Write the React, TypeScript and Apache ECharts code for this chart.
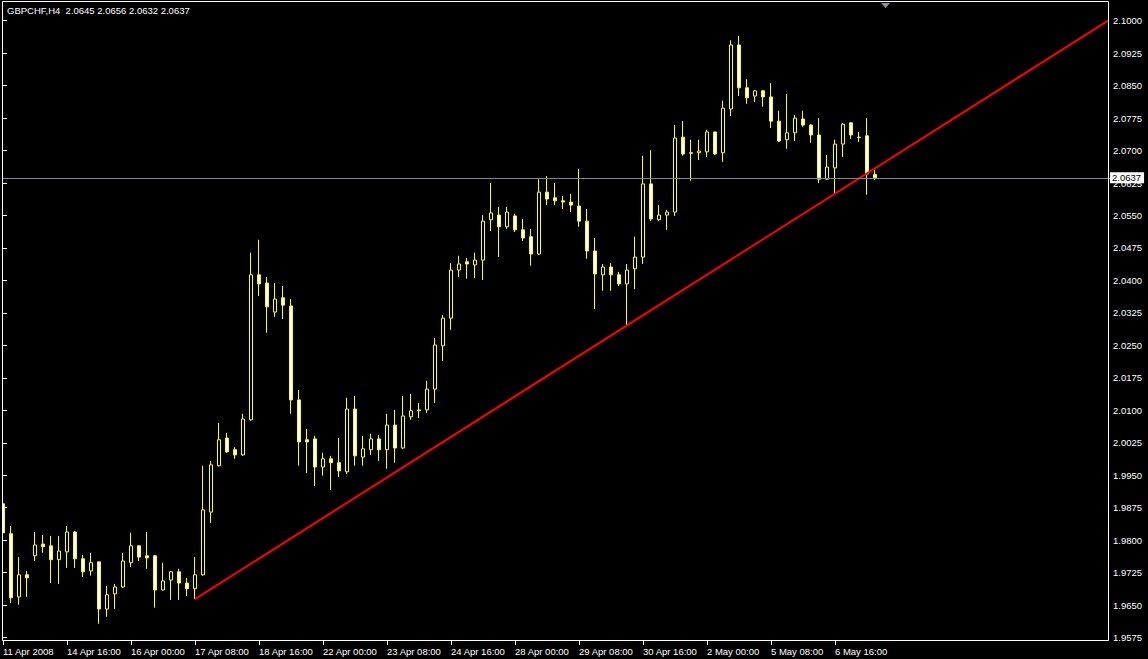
import React, { useEffect, useRef } from "react";
import * as echarts from "echarts";

const symbolTitle = "GBPCHF,H4  2.0645 2.0656 2.0632 2.0637";

// H4 candles, 11 Apr 2008 08:00 onward (index 0..109)
const opens = [
  1.9884, 1.9815, 1.9669, 1.9720, 1.9764, 1.9791, 1.9787, 1.9755, 1.9773, 1.9819,
  1.9757, 1.9729, 1.9750, 1.9641, 1.9676, 1.9692, 1.9748, 1.9787, 1.9764, 1.9764,
  1.9685, 1.9708, 1.9727, 1.9701, 1.9688, 1.9720, 1.9865, 1.9972, 2.0036, 2.0009,
  1.9997, 2.0078, 2.0413, 2.0394, 2.0327, 2.0360, 2.0341, 2.0124, 2.0032, 2.0034,
  1.9969, 1.9988, 1.9979, 1.9958, 2.0103, 1.9992, 2.0009, 2.0034, 2.0009, 2.0066,
  2.0013, 2.0085, 2.0099, 2.0101, 2.0149, 2.0249, 2.0313, 2.0424, 2.0443, 2.0436,
  2.0447, 2.0540, 2.0551, 2.0524, 2.0549, 2.0517, 2.0501, 2.0461, 2.0604, 2.0591,
  2.0584, 2.0581, 2.0572, 2.0537, 2.0468, 2.0413, 2.0431, 2.0413, 2.0392, 2.0427,
  2.0454, 2.0623, 2.0540, 2.0551, 2.0558, 2.0731, 2.0695, 2.0695, 2.0697, 2.0743,
  2.0695, 2.0796, 2.0944, 2.0845, 2.0826, 2.0838, 2.0824, 2.0768, 2.0725, 2.0741,
  2.0773, 2.0759, 2.0736, 2.0634, 2.0660, 2.0715, 2.0764, 2.0731, 2.0734, 2.0645,
];
const closes = [
  1.9817, 1.9667, 1.9720, 1.9713, 1.9789, 1.9785, 1.9755, 1.9775, 1.9819, 1.9757,
  1.9727, 1.9748, 1.9641, 1.9674, 1.9692, 1.9752, 1.9787, 1.9761, 1.9759, 1.9685,
  1.9706, 1.9727, 1.9701, 1.9688, 1.9720, 1.9870, 1.9974, 2.0032, 2.0004, 1.9997,
  2.0080, 2.0413, 2.0392, 2.0339, 2.0357, 2.0343, 2.0124, 2.0027, 2.0027, 1.9969,
  1.9988, 1.9979, 1.9960, 2.0103, 1.9995, 2.0011, 2.0034, 2.0009, 2.0066, 2.0013,
  2.0087, 2.0099, 2.0101, 2.0149, 2.0251, 2.0313, 2.0424, 2.0438, 2.0438, 2.0447,
  2.0537, 2.0556, 2.0524, 2.0558, 2.0517, 2.0498, 2.0461, 2.0604, 2.0588, 2.0584,
  2.0581, 2.0574, 2.0537, 2.0468, 2.0415, 2.0431, 2.0413, 2.0392, 2.0424, 2.0454,
  2.0623, 2.0542, 2.0551, 2.0558, 2.0729, 2.0692, 2.0694, 2.0699, 2.0743, 2.0692,
  2.0798, 2.0944, 2.0845, 2.0822, 2.0838, 2.0824, 2.0768, 2.0722, 2.0741, 2.0775,
  2.0759, 2.0736, 2.0634, 2.0662, 2.0715, 2.0761, 2.0736, 2.0730, 2.0646, 2.0637,
];
const lows = [
  1.9775, 1.9655, 1.9651, 1.9669, 1.9752, 1.9771, 1.9701, 1.9699, 1.9736, 1.9736,
  1.9715, 1.9718, 1.9607, 1.9623, 1.9641, 1.9690, 1.9738, 1.9752, 1.9734, 1.9644,
  1.9684, 1.9662, 1.9662, 1.9671, 1.9664, 1.9718, 1.9840, 1.9970, 2.0002, 1.9988,
  1.9995, 2.0076, 2.0364, 2.0279, 2.0316, 2.0311, 2.0092, 1.9972, 1.9955, 1.9925,
  1.9949, 1.9916, 1.9946, 1.9953, 1.9972, 1.9972, 1.9997, 1.9983, 1.9965, 1.9979,
  2.0011, 2.0078, 2.0082, 2.0094, 2.0117, 2.0214, 2.0286, 2.0408, 2.0404, 2.0406,
  2.0401, 2.0514, 2.0454, 2.0519, 2.0512, 2.0491, 2.0434, 2.0459, 2.0574, 2.0574,
  2.0565, 2.0558, 2.0524, 2.0450, 2.0334, 2.0376, 2.0376, 2.0387, 2.0297, 2.0380,
  2.0438, 2.0537, 2.0537, 2.0517, 2.0549, 2.0688, 2.0630, 2.0678, 2.0685, 2.0690,
  2.0674, 2.0780, 2.0826, 2.0808, 2.0812, 2.0801, 2.0752, 2.0720, 2.0704, 2.0722,
  2.0755, 2.0718, 2.0625, 2.0632, 2.0602, 2.0685, 2.0727, 2.0720, 2.0598, 2.0632,
];
const highs = [
  1.9909, 1.9833, 1.9761, 1.9729, 1.9819, 1.9812, 1.9810, 1.9810, 1.9833, 1.9821,
  1.9766, 1.9771, 1.9750, 1.9694, 1.9699, 1.9771, 1.9817, 1.9789, 1.9819, 1.9766,
  1.9748, 1.9729, 1.9734, 1.9713, 1.9761, 1.9972, 1.9983, 2.0071, 2.0048, 2.0015,
  2.0092, 2.0464, 2.0494, 2.0408, 2.0394, 2.0387, 2.0357, 2.0147, 2.0057, 2.0041,
  2.0002, 1.9995, 2.0036, 2.0129, 2.0133, 2.0041, 2.0046, 2.0043, 2.0092, 2.0101,
  2.0133, 2.0138, 2.0117, 2.0168, 2.0267, 2.0320, 2.0440, 2.0457, 2.0452, 2.0464,
  2.0551, 2.0625, 2.0570, 2.0570, 2.0554, 2.0542, 2.0519, 2.0634, 2.0641, 2.0625,
  2.0595, 2.0600, 2.0658, 2.0565, 2.0498, 2.0438, 2.0440, 2.0420, 2.0438, 2.0501,
  2.0688, 2.0701, 2.0574, 2.0563, 2.0759, 2.0768, 2.0725, 2.0725, 2.0748, 2.0743,
  2.0815, 2.0955, 2.0965, 2.0865, 2.0840, 2.0840, 2.0856, 2.0792, 2.0831, 2.0782,
  2.0792, 2.0761, 2.0775, 2.0690, 2.0725, 2.0764, 2.0766, 2.0743, 2.0775, 2.0656,
];

// time-axis tick labels, one every 8 bars
const dateTicks = [
  "11 Apr 2008", "14 Apr 16:00", "16 Apr 00:00", "17 Apr 08:00", "18 Apr 16:00",
  "22 Apr 00:00", "23 Apr 08:00", "24 Apr 16:00", "28 Apr 00:00", "29 Apr 08:00",
  "30 Apr 16:00", "2 May 00:00", "5 May 08:00", "6 May 16:00",
];
const priceTicks = [
  1.9575, 1.965, 1.9725, 1.98, 1.9875, 1.995, 2.0025, 2.01, 2.0175, 2.025,
  2.0325, 2.04, 2.0475, 2.055, 2.0625, 2.07, 2.0775, 2.085, 2.0925, 2.1,
];
const lastPrice = 2.0637;
// trend line anchors: [bar index, price]
const trendLine = [
  [24, 1.9664],
  [138.125, 2.1],
];

const SLOTS = 139; // bars shown + empty right shift
const TICK_EVERY = 8;
const FONT = '"Liberation Sans", Arial, sans-serif';

export default function App() {
  const ref = useRef<HTMLDivElement>(null);
  useEffect(() => {
    document.body.style.margin = "0";
    document.body.style.background = "#000";
    const chart = echarts.init(ref.current!, null, { renderer: "svg" });
    const cats = Array.from({ length: SLOTS }, (_, i) => String(i));
    const showTick = (idx: number) => idx % TICK_EVERY === 0 && idx / TICK_EVERY < dateTicks.length;
    const candles = opens.map((o, i) => [o, closes[i], lows[i], highs[i]]);
    chart.setOption({
      animation: false,
      backgroundColor: "#000",
      grid: { left: -1, right: 37, top: 1, bottom: 18, outerBoundsMode: "none", containLabel: false },
      xAxis: [
        {
          type: "category",
          data: cats,
          boundaryGap: true,
          axisLine: { show: false },
          axisTick: {
            show: true,
            alignWithLabel: true,
            interval: (idx: number) => showTick(idx),
            length: 4,
            lineStyle: { color: "#fff", width: 1 },
          },
          axisLabel: {
            interval: (idx: number) => showTick(idx),
            formatter: (_v: string, idx: number) => dateTicks[idx / TICK_EVERY] ?? "",
            color: "#fff",
            fontSize: 9.5,
            fontFamily: FONT,
            align: "left",
            margin: 5,
          },
          splitLine: { show: false },
        },
        { type: "value", min: -0.5, max: SLOTS - 0.5, show: false },
      ],
      yAxis: {
        type: "value",
        position: "right",
        offset: -3,
        min: 1.956717,
        max: 2.10455,
        axisLine: { show: false },
        splitLine: { show: false },
        axisTick: {
          show: true,
          length: 4,
          lineStyle: { color: "#fff", width: 1 },
          customValues: priceTicks,
        },
        axisLabel: {
          customValues: priceTicks,
          formatter: (v: number) => v.toFixed(4),
          color: "#fff",
          fontSize: 9.5,
          fontFamily: FONT,
          margin: 5,
        },
      },
      series: [
        {
          type: "candlestick",
          xAxisIndex: 0,
          yAxisIndex: 0,
          barWidth: 4,
          data: candles,
          itemStyle: {
            color: "#000",
            color0: "#fff",
            borderColor: "#ffff00",
            borderColor0: "#ffff00",
            borderColorDoji: "#ffff00",
            borderWidth: 1,
          },
        },
        {
          type: "line",
          xAxisIndex: 1,
          yAxisIndex: 0,
          data: trendLine,
          symbol: "none",
          lineStyle: { color: "#ff0000", width: 2 },
          z: 3,
          markLine: {
            silent: true,
            precision: 4,
            symbol: ["none", "none"],
            animation: false,
            lineStyle: { color: "#778899", type: "solid", width: 1 },
            label: {
              show: true,
              position: "end",
              distance: -1,
              formatter: lastPrice.toFixed(4),
              color: "#000",
              backgroundColor: "#fff",
              fontSize: 9.5,
              fontFamily: FONT,
              padding: [1, 3, 0, 2],
            },
            data: [{ yAxis: lastPrice }],
          },
        },
      ],
      graphic: [
        {
          type: "rect",
          z: 99,
          silent: true,
          shape: { x: 0, y: 0, width: 2, height: 641 },
          style: { fill: "#000" },
        },
        {
          type: "rect",
          z: 100,
          silent: true,
          shape: { x: 2.5, y: 1.5, width: 1106, height: 639 },
          style: { fill: "none", stroke: "#fff", lineWidth: 1 },
        },
        {
          type: "polygon",
          z: 100,
          silent: true,
          shape: { points: [[881, 3], [890, 3], [885.5, 8]] },
          style: { fill: "#8a8f99" },
        },
        {
          type: "text",
          z: 100,
          silent: true,
          x: 7,
          y: 10,
          style: {
            text: symbolTitle,
            fill: "#fff",
            font: `9.5px ${FONT}`,
            verticalAlign: "middle",
          },
        },
      ],
    });
    return () => chart.dispose();
  }, []);
  return (
    <div
      ref={ref}
      style={{ position: "absolute", left: 0, top: 0, width: 1148, height: 659, background: "#000" }}
    />
  );
}
